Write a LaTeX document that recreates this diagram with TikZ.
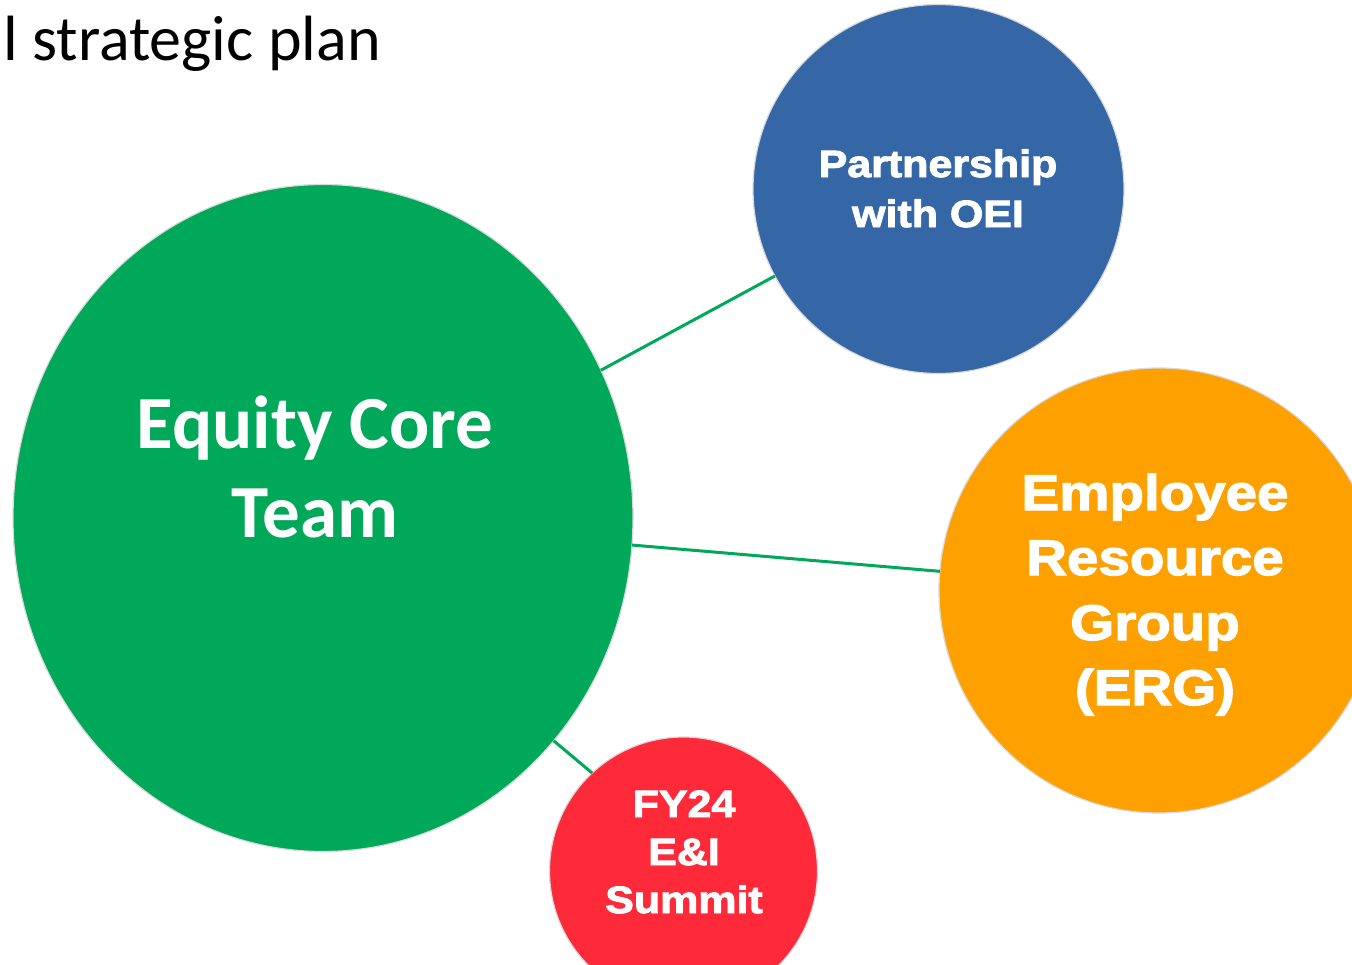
\documentclass[tikz,border=0pt]{standalone}
\usepackage{fontspec}
\setmainfont{Carlito}
\newfontfamily\heavy{Liberation Sans}[UprightFont={* Bold}, FakeBold=2.5, FakeStretch=1.13]
\usetikzlibrary{shapes.geometric}

\definecolor{teamgreen}{RGB}{0,168,89}
\definecolor{oeiblue}{RGB}{53,103,167}
\definecolor{ergorange}{RGB}{254,161,0}
\definecolor{summitred}{RGB}{254,42,58}

\tikzset{
  bubble/.style={ellipse, draw=black!15, line width=1.2pt, inner sep=0pt, outer sep=0pt},
  link/.style={draw=teamgreen, line width=3pt},
  heavylabel/.style={text=white, align=center, anchor=base, inner sep=0pt},
}

\begin{document}
\begin{tikzpicture}[x=1pt, y=-1pt]
\useasboundingbox (0,0) rectangle (1352,964);
\clip (0,0) rectangle (1352,964);
\fill[white] (0,0) rectangle (1352,964);

% page heading (continues beyond the left edge)
\node[anchor=base west, inner sep=0pt, font=\fontsize{64}{68}\selectfont] (title) at (3,60) {l strategic plan};

% bubbles
\node[bubble, fill=teamgreen, minimum width=620pt, minimum height=667pt] (core) at (323,518) {};
\node[bubble, fill=oeiblue, minimum width=371pt, minimum height=369pt] (oei) at (938.5,189) {};
\node[bubble, fill=ergorange, minimum width=440pt, minimum height=445pt] (erg) at (1159,590.5) {};
\node[bubble, fill=summitred, minimum width=268pt, minimum height=268pt] (summit) at (683.5,871) {};

% connectors between the core team and its partners
\draw[link] (core.28.7) -- (oei.208);
\draw[link] (core.-5.5) -- (erg.175.5);
\draw[link] (core.-44) -- (summit.133);

% labels (each node is anchored at the baseline of its last line)
\node[heavylabel, font=\bfseries\fontsize{75}{89}\selectfont] (coretext) at (315,537) {Equity Core\\Team};
\node[heavylabel, font=\heavy\fontsize{38}{50}\selectfont] (oeitext) at (938,227) {Partnership\\with OEI};
\node[heavylabel, font=\heavy\fontsize{50}{65}\selectfont] (ergtext) at (1155,705) {Employee\\Resource\\Group\\(ERG)};
\node[heavylabel, font=\heavy\fontsize{38}{48}\selectfont] (summittext) at (684,913) {FY24\\E\&I\\Summit};
\end{tikzpicture}
\end{document}
